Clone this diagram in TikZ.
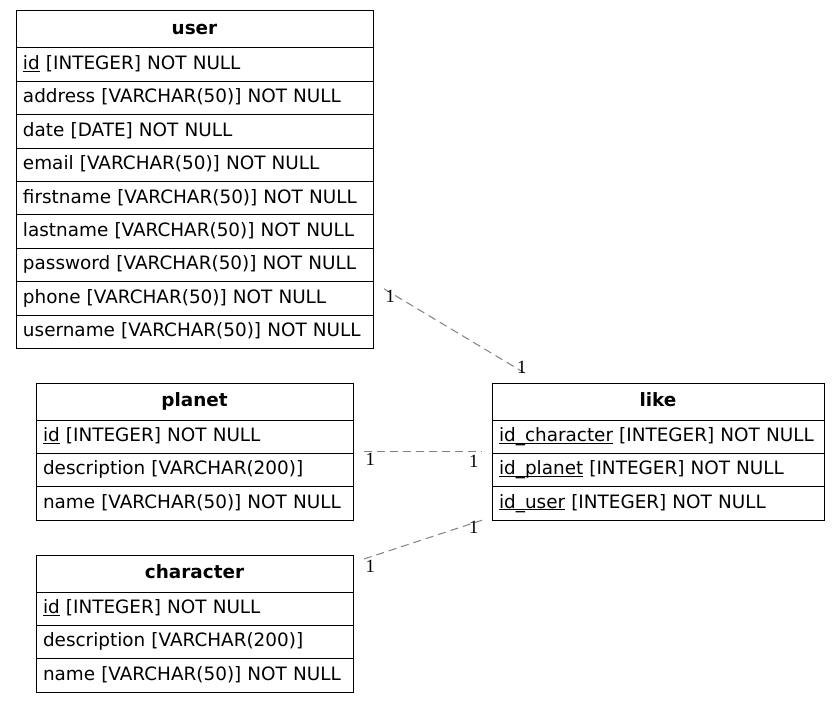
\documentclass[tikz,border=0pt]{standalone}
\usepackage{fontspec}
\setmainfont{DejaVu Sans}
\newfontfamily\multfont{Liberation Serif}
\usetikzlibrary{positioning}

\newcommand\tblsize{\fontsize{18.4}{22}\selectfont}
\newcommand\pkey[1]{\underline{\smash{#1}}}

\tikzset{
  tblhead/.style={draw=black, line width=1pt, outer sep=0pt, inner xsep=7pt, inner ysep=0pt, minimum height=37pt, text height=14pt, text depth=4.5pt, align=center, font=\tblsize\bfseries},
  tblrow/.style={draw=black, line width=1pt, outer sep=0pt, inner xsep=7pt, inner ysep=0pt, minimum height=33.4pt, text height=14pt, text depth=4.5pt, align=left, font=\tblsize},
  relline/.style={draw=gray, line width=1pt, dash pattern=on 8pt off 5pt},
  mult/.style={inner sep=1pt, font=\fontsize{18.67}{22}\selectfont\multfont}
}

\begin{document}
\begin{tikzpicture}[x=1pt, y=-1pt]
            \useasboundingbox (0,0) rectangle (840,703);

            % user
            \node [tblhead, text width=343pt, anchor=north west] (user) at (16,11) {user};
            \node [tblrow, text width=343pt, below=0pt of user] (user-id) {\pkey{id} [INTEGER] NOT NULL};
            \node [tblrow, text width=343pt, below=0pt of user-id] (user-address) {address [VARCHAR(50)] NOT NULL};
            \node [tblrow, text width=343pt, below=0pt of user-address] (user-date) {date [DATE] NOT NULL};
            \node [tblrow, text width=343pt, below=0pt of user-date] (user-email) {email [VARCHAR(50)] NOT NULL};
            \node [tblrow, text width=343pt, below=0pt of user-email] (user-firstname) {firstname [VARCHAR(50)] NOT NULL};
            \node [tblrow, text width=343pt, below=0pt of user-firstname] (user-lastname) {lastname [VARCHAR(50)] NOT NULL};
            \node [tblrow, text width=343pt, below=0pt of user-lastname] (user-password) {password [VARCHAR(50)] NOT NULL};
            \node [tblrow, text width=343pt, below=0pt of user-password] (user-phone) {phone [VARCHAR(50)] NOT NULL};
            \node [tblrow, text width=343pt, below=0pt of user-phone] (user-username) {username [VARCHAR(50)] NOT NULL};

            % planet
            \node [tblhead, text width=303pt, anchor=north west] (planet) at (36,383) {planet};
            \node [tblrow, text width=303pt, below=0pt of planet] (planet-id) {\pkey{id} [INTEGER] NOT NULL};
            \node [tblrow, text width=303pt, below=0pt of planet-id] (planet-description) {description [VARCHAR(200)]};
            \node [tblrow, text width=303pt, below=0pt of planet-description] (planet-name) {name [VARCHAR(50)] NOT NULL};

            % character
            \node [tblhead, text width=303pt, anchor=north west] (character) at (36,555) {character};
            \node [tblrow, text width=303pt, below=0pt of character] (character-id) {\pkey{id} [INTEGER] NOT NULL};
            \node [tblrow, text width=303pt, below=0pt of character-id] (character-description) {description [VARCHAR(200)]};
            \node [tblrow, text width=303pt, below=0pt of character-description] (character-name) {name [VARCHAR(50)] NOT NULL};

            % like
            \node [tblhead, text width=318pt, anchor=north west] (like) at (492,383) {like};
            \node [tblrow, text width=318pt, below=0pt of like] (like-idcharacter) {\mbox{\pkey{id\_character} [INTEGER] NOT NULL}};
            \node [tblrow, text width=318pt, below=0pt of like-idcharacter] (like-idplanet) {\pkey{id\_planet} [INTEGER] NOT NULL};
            \node [tblrow, text width=318pt, below=0pt of like-idplanet] (like-iduser) {\pkey{id\_user} [INTEGER] NOT NULL};

            % relations
            \draw [relline] ([shift={(11,7)}]user-phone.north east) -- ([shift={(36,-8)}]like.north west)
                node [mult, pos=0, anchor=north west] {1} node [mult, pos=1, anchor=south east] {1};
            \draw [relline] ([shift={(11,-2)}]planet-id.south east) -- ([shift={(-10,-2)}]like-idcharacter.south west)
                node [mult, pos=0, anchor=north west] {1} node [mult, pos=1, anchor=north east, inner sep=3pt] {1};
            \draw [relline] ([shift={(11,4)}]character.north east) -- ([shift={(-10,0)}]like-iduser.south west)
                node [mult, pos=0, anchor=north west] {1} node [mult, pos=1, anchor=north east, inner sep=3pt, yshift=3pt] {1};
        \end{tikzpicture}
\end{document}
